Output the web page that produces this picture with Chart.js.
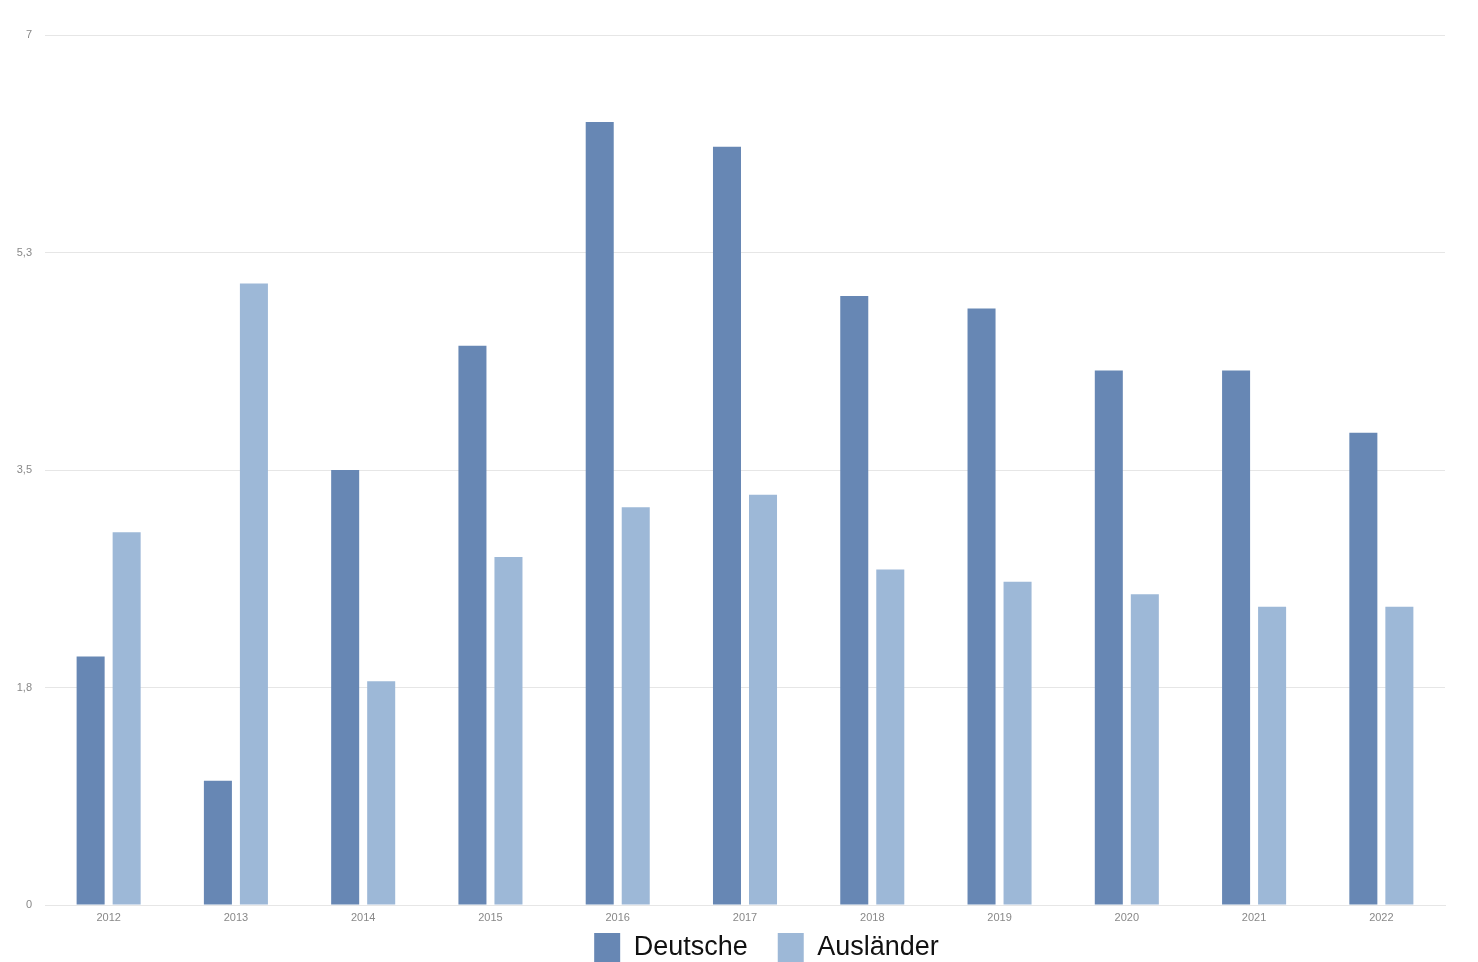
<!DOCTYPE html>
<html>
<head>
<meta charset="utf-8">
<script src="https://cdn.jsdelivr.net/npm/chart.js@4/dist/chart.umd.min.js"></script>
<style>
html,body{margin:0;padding:0;background:#fff;overflow:hidden;}
#wrap{position:absolute;left:0;top:0;width:1478px;height:997px;}
</style>
</head>
<body>
<div id="wrap"><canvas id="c"></canvas></div>
<script>
const categories = ['2012','2013','2014','2015','2016','2017','2018','2019','2020','2021','2022'];
const deutsche = [2.0, 1.0, 3.5, 4.5, 6.3, 6.1, 4.9, 4.8, 4.3, 4.3, 3.8];
const auslaender = [3.0, 5.0, 1.8, 2.8, 3.2, 3.3, 2.7, 2.6, 2.5, 2.4, 2.4];
const seriesNames = ['Deutsche', 'Ausländer'];
const yMin = 0, yMax = 7, yStep = 1.75;

const legendShift = {
  id: 'legendShift',
  afterLayout(chart) {
    const lg = chart.legend;
    if (lg) { lg.left += 44; lg.right += 44; lg.top -= 24; lg.bottom -= 24; }
  }
};

Chart.defaults.font.family = '"Liberation Sans", Helvetica, Arial, sans-serif';
new Chart(document.getElementById('c'), {
  type: 'bar',
  data: {
    labels: categories,
    datasets: [
      {label: seriesNames[0], data: deutsche, backgroundColor: '#6787b4', categoryPercentage: 0.566, barPercentage: 0.778},
      {label: seriesNames[1], data: auslaender, backgroundColor: '#9db8d7', categoryPercentage: 0.566, barPercentage: 0.778}
    ]
  },
  plugins: [legendShift],
  options: {
    responsive: true,
    maintainAspectRatio: false,
    animation: false,
    layout: {padding: {top: 35, right: 33, left: 0, bottom: 0}},
    plugins: {
      tooltip: {enabled: false},
      legend: {
        position: 'bottom',
        labels: {boxWidth: 26, boxHeight: 30, color: '#111', font: {size: 27}, padding: 30}
      }
    },
    scales: {
      x: {
        grid: {display: false, drawTicks: false},
        border: {display: true, color: '#e6e6e6'},
        ticks: {color: '#888', font: {size: 11}, padding: 6, maxRotation: 0, autoSkip: false},
        afterFit: s => { s.height = 22; }
      },
      y: {
        min: yMin, max: yMax,
        border: {display: false},
        grid: {color: '#e6e6e6', drawTicks: false},
        ticks: {stepSize: yStep, color: '#888', font: {size: 11}, padding: 13,
          callback: v => (Number.isInteger(v) ? String(v) : v.toFixed(1).replace('.', ','))},
        afterFit: s => { s.width = 45; }
      }
    }
  }
});
</script>
</body>
</html>
